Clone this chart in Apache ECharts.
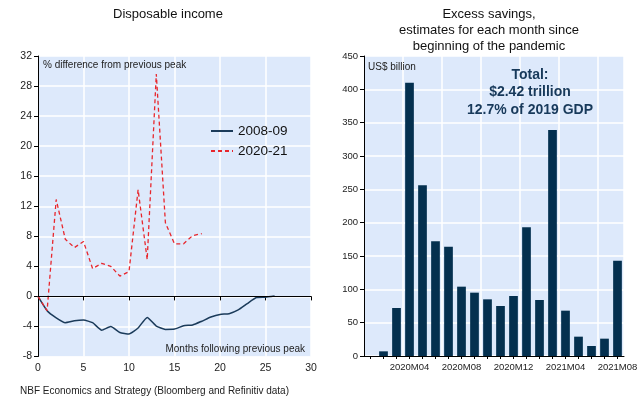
<!DOCTYPE html>
<html>
<head>
<meta charset="utf-8">
<script src="https://cdn.jsdelivr.net/npm/echarts@6/dist/echarts.min.js"></script>
<style>
  html, body { margin: 0; padding: 0; background: #fff; }
  #chart { width: 642px; height: 399px; }
</style>
</head>
<body>
<div id="chart"></div>
<script>
const FONT = '"Liberation Sans", Arial, sans-serif'

// Disposable income, % difference from previous peak, by month after the peak
const income0809 = [0, -1.9, -2.85, -3.5, -3.25, -3.15, -3.5, -4.5, -4.0, -4.8, -5.0, -4.2, -2.8, -3.95,
  -4.4, -4.35, -3.9, -3.8, -3.3, -2.75, -2.4, -2.3, -1.8, -0.95, -0.15, -0.1, 0.05]
const income2021 = [0, -1.9, 12.9, 7.6, 6.5, 7.3, 3.7, 4.4, 4.0, 2.7, 3.3, 14.2, 4.9, 29.6, 9.8, 7.0, 7.0, 8.1, 8.35]

// Excess savings, US$ billion
const savingsMonths = ['2020M01', '2020M02', '2020M03', '2020M04', '2020M05', '2020M06', '2020M07', '2020M08',
  '2020M09', '2020M10', '2020M11', '2020M12', '2021M01', '2021M02', '2021M03', '2021M04', '2021M05',
  '2021M06', '2021M07', '2021M08']
const savings = [0, 7, 72, 410, 256, 172, 164, 104, 95, 85, 75, 90, 193, 84, 339, 68, 29, 15, 26, 143]

const chart = echarts.init(document.getElementById('chart'))

const axisLine = { show: true, lineStyle: { color: '#000', width: 1 } }
const axisTick = { show: true, inside: false, length: 4, lineStyle: { color: '#000' } }
const splitLine = { show: true, lineStyle: { color: '#fff', width: 1.5 } }
const bg = '#dde9fb'

// free-standing texts, drawn above the grids
function label(x, y, text, font, align, extra) {
  return {
    type: 'text', x, y, z: 100, silent: true,
    style: Object.assign({ text, font: font + ' ' + FONT, fill: '#222', textAlign: align, textVerticalAlign: 'middle' }, extra || {})
  }
}

chart.setOption({
  animation: false,
  textStyle: { fontFamily: FONT },
  grid: [
    { left: 38, right: 331, top: 56, bottom: 42.5, show: true, backgroundColor: bg, borderWidth: 0, outerBoundsMode: 'none' },
    { left: 364, right: 18, top: 56, bottom: 43, show: true, backgroundColor: bg, borderWidth: 0, outerBoundsMode: 'none' }
  ],
  legend: {
    orient: 'vertical',
    left: 205,
    top: 119,
    itemWidth: 22,
    itemHeight: 12,
    itemGap: 6,
    data: ['2008-09', '2020-21'],
    itemStyle: { opacity: 0 },
    textStyle: { fontSize: 13.5, color: '#111', fontFamily: FONT }
  },
  xAxis: [
    {
      gridIndex: 0, type: 'value', min: 0, max: 30, interval: 5,
      axisLine, axisTick, splitLine,
      axisLabel: { color: '#222', fontSize: 10.5, margin: 6 }
    },
    {
      gridIndex: 1, type: 'category', data: savingsMonths, boundaryGap: true,
      axisLine,
      axisTick: { show: true, alignWithLabel: true, interval: 0, length: 3, lineStyle: { color: '#000' } },
      splitLine: { show: true, interval: (i) => i > 0 && i % 3 === 0, lineStyle: { color: '#fff', width: 1.5 } },
      axisLabel: { color: '#222', fontSize: 9.5, margin: 6, interval: (i) => i % 4 === 3 }
    }
  ],
  yAxis: [
    {
      gridIndex: 0, type: 'value', min: -8, max: 32, interval: 4,
      axisLine, axisTick, splitLine,
      axisLabel: { color: '#222', fontSize: 10.5, margin: 6 }
    },
    {
      gridIndex: 1, type: 'value', min: 0, max: 450, interval: 50,
      axisLine, axisTick, splitLine,
      axisLabel: { color: '#222', fontSize: 9.5, margin: 6 }
    }
  ],
  series: [
    {
      name: '2008-09', type: 'line', xAxisIndex: 0, yAxisIndex: 0,
      data: income0809.map((v, i) => [i, v]),
      symbol: 'none', smooth: 0.15,
      lineStyle: { color: '#1b3b5a', width: 1.5 },
      itemStyle: { color: '#1b3b5a' },
      markLine: {
        silent: true, symbol: 'none', label: { show: false },
        lineStyle: { color: '#000', width: 1.2, type: 'solid' },
        data: [{ yAxis: 0 }]
      },
      z: 3
    },
    {
      name: '2020-21', type: 'line', xAxisIndex: 0, yAxisIndex: 0,
      data: income2021.map((v, i) => [i, v]),
      symbol: 'none',
      lineStyle: { color: '#e8262c', width: 1.3, type: [4, 3] },
      itemStyle: { color: '#e8262c' },
      z: 4
    },
    {
      name: 'Excess savings', type: 'bar', xAxisIndex: 1, yAxisIndex: 1,
      data: savings, barWidth: '67%',
      itemStyle: { color: '#04304f' }
    }
  ],
  graphic: [
    label(168, 14, 'Disposable income', '13px', 'center', { fill: '#111' }),
    label(489, 30, 'Excess savings,\nestimates for each month since\nbeginning of the pandemic', '13px', 'center', { fill: '#111', lineHeight: 16 }),
    label(43, 65, '% difference from previous peak', '10px', 'left'),
    label(305, 349, 'Months following previous peak', '10px', 'right'),
    label(368, 67, 'US$ billion', '10px', 'left'),
    label(530, 92.5, 'Total:\n$2.42 trillion\n12.7% of 2019 GDP', 'bold 14px', 'center', { fill: '#17395a', lineHeight: 17.5 }),
    label(20, 391, 'NBF Economics and Strategy (Bloomberg and Refinitiv data)', '10px', 'left')
  ]
})
</script>
</body>
</html>
